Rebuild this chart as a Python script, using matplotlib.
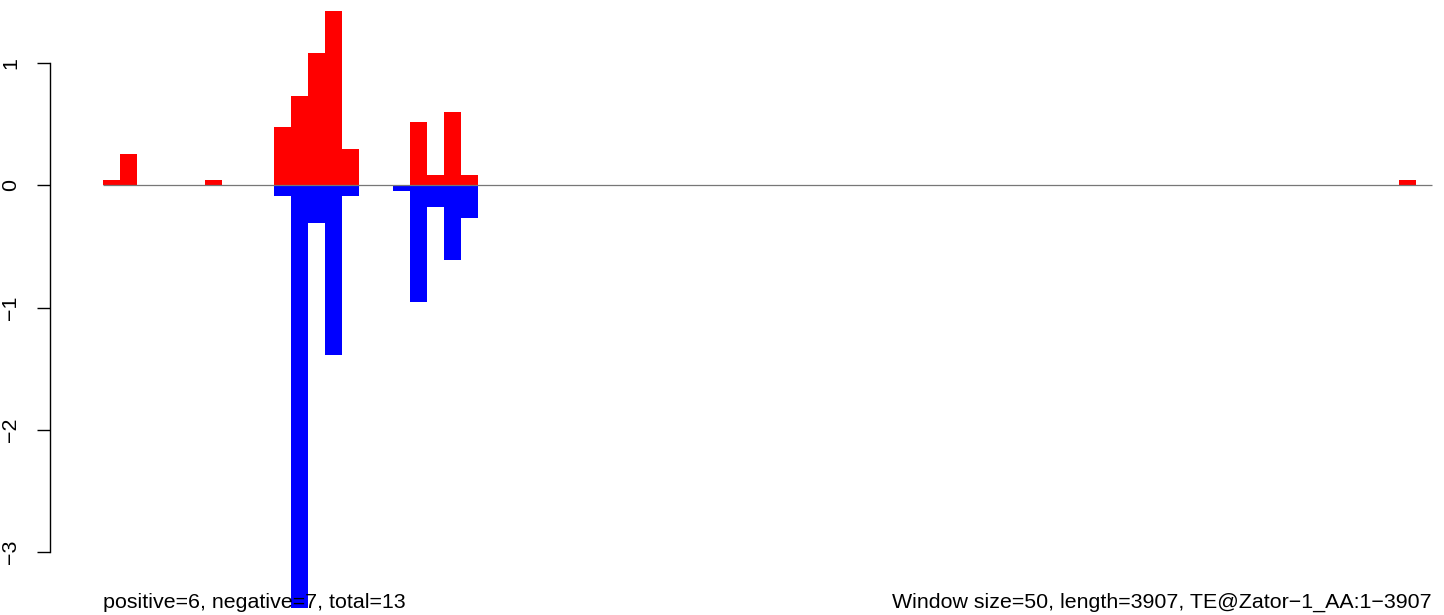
"""
TE 윈도우별 positive/negative 점수를 R barplot 스타일로 다시 그림.
"""
import matplotlib
matplotlib.use('Agg')
import numpy as np
import matplotlib.pyplot as plt

WINDOW = 50
LENGTH = 3907
TE_NAME = 'TE@Zator\u22121_AA:1\u22123907'

# window index (0-based) and score
POS_IDX = [0, 1, 6, 10, 11, 12, 13, 14, 18, 19, 20, 21, 76]
POS_VALS = [0.045, 0.256, 0.045, 0.477, 0.730, 1.082, 1.425, 0.297,
            0.518, 0.084, 0.600, 0.084, 0.045]
NEG_IDX = [10, 11, 12, 13, 14, 17, 18, 19, 20, 21]
NEG_VALS = [-0.085, -3.46, -0.308, -1.385, -0.085, -0.044, -0.954,
            -0.177, -0.611, -0.267]

N_POS = 6
N_NEG = 7

plt.rcParams['font.family'] = ['Liberation Sans', 'DejaVu Sans']

W, H = 1444, 615
fig = plt.figure(figsize=(W / 100, H / 100), dpi=100)
ax = fig.add_axes([0, 0, 1, 1])

# pixel mapping: one window ~17.05 px starting at x=103, y tick 1 at 63px, -3 at 552px
px_per_bp = 17.05 / WINDOW
ax.set_xlim(-103 / px_per_bp, (W - 103) / px_per_bp)
px_per_unit = (552 - 63) / 4
zero_px = 552 - 3 * px_per_unit
ax.set_ylim(-(H - zero_px) / px_per_unit, zero_px / px_per_unit)

pos_x = np.array(POS_IDX) * WINDOW
neg_x = np.array(NEG_IDX) * WINDOW
ax.bar(pos_x, POS_VALS, width=WINDOW, align='edge', color='#ff0000',
       linewidth=0, zorder=2)
ax.bar(neg_x, NEG_VALS, width=WINDOW, align='edge', color='#0000ff',
       linewidth=0, zorder=2)
ax.hlines(0, 0, LENGTH - 10, color='#777777', linewidth=0.9, zorder=3)

# R style y axis
for s in ['top', 'right', 'bottom']:
    ax.spines[s].set_visible(False)
ax.spines['left'].set_position(('data', (50 - 103) / px_per_bp))
ax.spines['left'].set_bounds(-3, 1)
ax.spines['left'].set_linewidth(1.0)
ax.set_xticks([])
ax.set_yticks([1, 0, -1, -2, -3])
ax.set_yticklabels(['1', '0', '\u22121', '\u22122', '\u22123'])
ax.tick_params(axis='y', direction='out', length=9.4, width=1.0,
               labelsize=15.4, pad=12, labelrotation=90)
for lab in ax.get_yticklabels():
    lab.set_va('center')

ax.text(0, 0.0115, f'positive={N_POS}, negative={N_NEG}, total={N_POS + N_NEG}',
        transform=ax.get_xaxis_transform(), ha='left', va='baseline',
        fontsize=15.4, zorder=5)
ax.text(LENGTH - 10, 0.0115, f'Window size={WINDOW}, length={LENGTH}, {TE_NAME}',
        transform=ax.get_xaxis_transform(), ha='right', va='baseline',
        fontsize=15.4, zorder=5)

fig.savefig('out.png', dpi=100)
plt.close(fig)
